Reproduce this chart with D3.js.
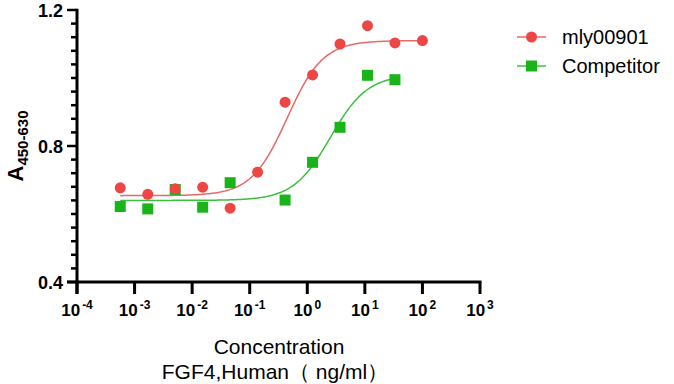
<!DOCTYPE html>
<html>
<head>
<meta charset="utf-8">
<script src="https://cdn.jsdelivr.net/npm/d3@7"></script>
<style>
  body { margin: 0; background: #fff; }
  svg { font-family: Arial, "Liberation Sans", sans-serif; }
</style>
</head>
<body>
<svg id="chart" width="674" height="384"></svg>
<script>
// concentrations (ng/ml), 3-fold dilution series
let concRed = [0.000564, 0.001694, 0.00508, 0.01524, 0.04572, 0.1372, 0.4115, 1.235, 3.704, 11.11, 33.33, 100];
let valRed = [0.677, 0.658, 0.674, 0.679, 0.617, 0.723, 0.929, 1.009, 1.100, 1.154, 1.103, 1.110];

let concGreen = [0.000564, 0.001694, 0.00508, 0.01524, 0.04572, 0.4115, 1.235, 3.704, 11.11, 33.33];
let valGreen = [0.622, 0.615, 0.672, 0.620, 0.692, 0.641, 0.752, 0.855, 1.008, 0.995];

// 4PL fit parameters: bottom, top, logEC50, hill
let fitRed = [0.654, 1.110, -0.35, 1.4];
let fitGreen = [0.640, 1.010, 0.40, 1.35];

let seriesNames = ['mly00901', 'Competitor'];
let xTicks = [-4, -3, -2, -1, 0, 1, 2, 3];
let yTicks = [0.4, 0.8, 1.2];

let red = '#ee4545';
let redLine = '#e46a6a';
let green = '#18b418';
let greenLine = '#3cbf3c';

let svg = d3.select('#chart');

let x = d3.scaleLog().domain([1e-4, 1e3]).range([77, 480]);
let y = d3.scaleLinear().domain([0.4, 1.2]).range([282, 10]);

let fourPL = (p, c) => {
  return p[0] + (p[1] - p[0]) / (1 + Math.pow(10, (p[2] - Math.log10(c)) * p[3]));
};

let curvePoints = (p, lo, hi) => {
  let pts = [];
  let a = Math.log10(lo), b = Math.log10(hi);
  for (let i = 0; i <= 200; i++) {
    let c = Math.pow(10, a + (b - a) * i / 200);
    pts.push([c, fourPL(p, c)]);
  }
  return pts;
};

// y axis
let yMinor = d3.range(0.4, 1.2001, 0.04);
svg.append('g')
  .selectAll('line')
  .data(yMinor)
  .enter()
  .append('line')
  .attr('x1', 77)
  .attr('x2', (d) => {
    let major = yTicks.some((t) => Math.abs(t - d) < 1e-6);
    return major ? 67 : 71;
  })
  .attr('y1', (d) => y(d))
  .attr('y2', (d) => y(d))
  .attr('stroke', '#000')
  .attr('stroke-width', 2.5);

svg.append('line')
  .attr('x1', 77).attr('x2', 77)
  .attr('y1', y(1.2) - 1.2).attr('y2', y(0.4) + 12)
  .attr('stroke', '#000').attr('stroke-width', 3);

svg.append('g')
  .selectAll('text')
  .data(yTicks)
  .enter()
  .append('text')
  .attr('x', 63)
  .attr('y', (d) => y(d) + 6.5)
  .attr('text-anchor', 'end')
  .attr('font-size', 18)
  .attr('font-weight', 'bold')
  .text((d) => d.toFixed(1));

// x axis
svg.append('line')
  .attr('x1', 67).attr('x2', x(1e3) + 1.5)
  .attr('y1', 282).attr('y2', 282)
  .attr('stroke', '#000').attr('stroke-width', 3);

svg.append('g')
  .selectAll('line')
  .data(xTicks)
  .enter()
  .append('line')
  .attr('x1', (d) => x(Math.pow(10, d)))
  .attr('x2', (d) => x(Math.pow(10, d)))
  .attr('y1', 282)
  .attr('y2', 294)
  .attr('stroke', '#000')
  .attr('stroke-width', 3);

let xLab = svg.append('g')
  .selectAll('text')
  .data(xTicks)
  .enter()
  .append('text')
  .attr('x', (d) => x(Math.pow(10, d)))
  .attr('y', 316)
  .attr('text-anchor', 'middle')
  .attr('font-size', 17)
  .attr('font-weight', 'bold');
xLab.append('tspan').text('10');
xLab.append('tspan')
  .attr('dy', -7)
  .attr('dx', 2)
  .attr('font-size', 12)
  .text((d) => d);

// axis titles
svg.append('text')
  .attr('x', 279).attr('y', 354)
  .attr('text-anchor', 'middle')
  .attr('font-size', 21)
  .text('Concentration');
svg.append('text')
  .attr('x', 275).attr('y', 379)
  .attr('text-anchor', 'middle')
  .attr('font-size', 21)
  .text('FGF4,Human（ ng/ml）');

let yTitle = svg.append('text')
  .attr('transform', 'translate(23,146) rotate(-90)')
  .attr('text-anchor', 'middle')
  .attr('font-weight', 'bold');
yTitle.append('tspan').attr('font-size', 22).text('A');
yTitle.append('tspan').attr('font-size', 15).attr('dy', 5).text('450-630');

// curves
let line = d3.line()
  .x((d) => x(d[0]))
  .y((d) => y(d[1]));

svg.append('path')
  .datum(curvePoints(fitGreen, d3.min(concGreen), d3.max(concGreen)))
  .attr('d', line)
  .attr('fill', 'none')
  .attr('stroke', greenLine)
  .attr('stroke-width', 1.5);

svg.append('path')
  .datum(curvePoints(fitRed, d3.min(concRed), d3.max(concRed)))
  .attr('d', line)
  .attr('fill', 'none')
  .attr('stroke', redLine)
  .attr('stroke-width', 1.5);

// points
svg.append('g')
  .selectAll('rect')
  .data(concGreen.map((c, i) => [c, valGreen[i]]))
  .enter()
  .append('rect')
  .attr('x', (d) => x(d[0]) - 5.5)
  .attr('y', (d) => y(d[1]) - 5.5)
  .attr('width', 11)
  .attr('height', 11)
  .attr('fill', green);

svg.append('g')
  .selectAll('circle')
  .data(concRed.map((c, i) => [c, valRed[i]]))
  .enter()
  .append('circle')
  .attr('cx', (d) => x(d[0]))
  .attr('cy', (d) => y(d[1]))
  .attr('r', 5.5)
  .attr('fill', red);

// legend
let legend = svg.append('g');
let items = [
  {name: seriesNames[0], color: red, lc: redLine, shape: 'circle', y: 37},
  {name: seriesNames[1], color: green, lc: greenLine, shape: 'square', y: 66}
];
items.forEach((it) => {
  legend.append('line')
    .attr('x1', 517).attr('x2', 546)
    .attr('y1', it.y).attr('y2', it.y)
    .attr('stroke', it.lc).attr('stroke-width', 1.5);
  if (it.shape === 'circle') {
    legend.append('circle').attr('cx', 531.5).attr('cy', it.y).attr('r', 5.5).attr('fill', it.color);
  } else {
    legend.append('rect').attr('x', 526).attr('y', it.y - 5.5).attr('width', 11).attr('height', 11).attr('fill', it.color);
  }
  legend.append('text')
    .attr('x', 562).attr('y', it.y + 7)
    .attr('font-size', 20)
    .text(it.name);
});
</script>
</body>
</html>
